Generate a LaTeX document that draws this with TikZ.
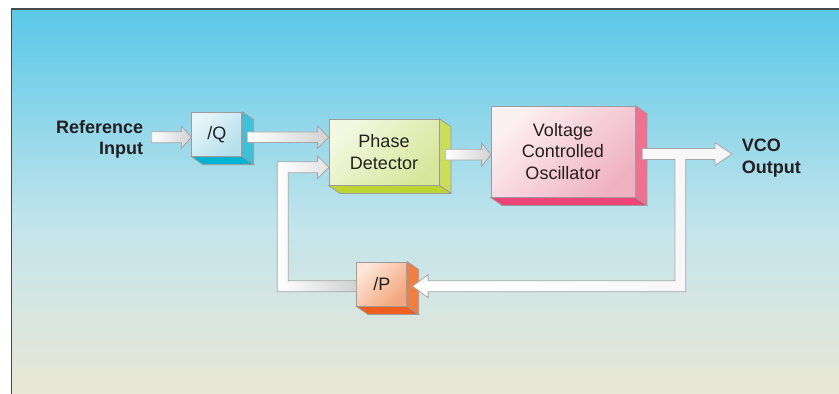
\documentclass[tikz,border=0pt]{standalone}
\usepackage{fontspec}
\setmainfont{Liberation Sans}
\usetikzlibrary{calc}
\definecolor{bgtop}{HTML}{5AC8E8}
\definecolor{bgmid}{HTML}{C4E5EB}
\definecolor{bgbot}{HTML}{ECE7D3}
\definecolor{frameline}{HTML}{4A4A4A}
\definecolor{edge}{HTML}{9C9C9C}
\definecolor{txt}{HTML}{231F20}
\definecolor{arrowedge}{HTML}{A6A6A6}
\definecolor{arrowdark}{HTML}{D2D2D2}
% /Q
\definecolor{qa}{HTML}{E6F5F9}\definecolor{qb}{HTML}{B4DFEC}
\definecolor{qs}{HTML}{3DC1DA}\definecolor{qbot}{HTML}{00B3D3}
% Phase detector
\definecolor{pa}{HTML}{F3F8E0}\definecolor{pb}{HTML}{D6E79C}
\definecolor{ps}{HTML}{CBDD5B}\definecolor{pbot}{HTML}{BDD532}
% VCO
\definecolor{va}{HTML}{FCF0F3}\definecolor{vb}{HTML}{F0B2C3}
\definecolor{vs}{HTML}{F0718F}\definecolor{vbot}{HTML}{EE4478}
% /P
\definecolor{oa}{HTML}{FDE6D8}\definecolor{ob}{HTML}{F4A57B}
\definecolor{os}{HTML}{F07F42}\definecolor{obot}{HTML}{EF5E21}

\tikzset{
  boxfront/.style={draw=edge, line width=0.8pt, inner sep=0pt, text=txt,
    font=\fontsize{18}{21.5}\selectfont, align=center},
  boxface/.style={draw=edge, line width=0.8pt, line join=miter},
  lbl/.style={inner sep=0pt, text=txt, font=\fontsize{18}{21.5}\selectfont\bfseries},
  fatarrow/.style={draw=arrowedge, line width=0.8pt, line join=miter,
    left color=white, right color=arrowdark},
}
% extruded faces of a box: #1 node name, #2 side colour, #3 bottom colour
\newcommand\boxdepth[3]{%
  \path[boxface, fill=#2] (#1.north east) -- ++(11.5,8)
     -- ($(#1.south east)+(11.5,8)$) -- (#1.south east) -- cycle;
  \path[boxface, fill=#3] (#1.south west) -- (#1.south east)
     -- ($(#1.south east)+(11.5,8)$) -- ($(#1.south west)+(11.5,8)$) -- cycle;
}
% straight fat arrow: #1 start, #2 tip, #3 shaft half width, #4 head half width, #5 head length
\newcommand\hfat[5]{%
  \path[fatarrow] ($(#1)+(0,-#3)$) -- ($(#2)+(-#5,-#3)$) -- ($(#2)+(-#5,-#4)$)
    -- (#2) -- ($(#2)+(-#5,#4)$) -- ($(#2)+(-#5,#3)$) -- ($(#1)+(0,#3)$) -- cycle;
}

\begin{document}
\begin{tikzpicture}[x=1pt, y=-1pt]
\useasboundingbox (0,0) rectangle (839,394);
\fill[white] (-5,-5) rectangle (845,400);
% background
\shade[top color=bgtop, bottom color=bgmid] (11.5,8.8) rectangle (850,230.5);
\shade[top color=bgmid, bottom color=bgbot] (11.5,230) rectangle (850,405);
\draw[frameline, line width=1.4pt] (11.5,405) -- (11.5,8.8) -- (850,8.8);

% boxes
\node[boxfront, minimum width=50pt, minimum height=44pt,
      top color=qa, bottom color=qb, shading angle=45] (q) at (216.8,134.2) {/Q};
\boxdepth{q}{qs}{qbot}
\node[boxfront, minimum width=110pt, minimum height=66pt,
      top color=pa, bottom color=pb, shading angle=45] (pd) at (384,152) {Phase\\Detector};
\boxdepth{pd}{ps}{pbot}
\node[boxfront, minimum width=144pt, minimum height=91pt,
      top color=va, bottom color=vb, shading angle=45] (vco) at (563,151.5) {Voltage\\Controlled\\Oscillator};
\boxdepth{vco}{vs}{vbot}
\node[boxfront, minimum width=50pt, minimum height=44pt,
      top color=oa, bottom color=ob, shading angle=45] (p) at (381.8,284) {/P};
\boxdepth{p}{os}{obot}

% labels
\node[lbl, anchor=north east, align=right] (refin) at (143.3,119.8) {Reference\\Input};
\node[lbl, anchor=north west, align=left] (vcoout) at (741.7,138.8) {VCO\\Output};

% connector points
\coordinate (refstart) at (151.7,137.2);
\coordinate (qin) at ($(q.west)+(0,3)$);
\coordinate (qout) at ($(q.east)+(4.9,3)$);
\coordinate (pdin) at ($(pd.west)+(0,-14.8)$);
\coordinate (pdout) at ($(pd.east)+(6.3,2.6)$);
\coordinate (vcoin) at ($(vco.west)+(0.5,3.1)$);
\coordinate (vcostart) at ($(vco.east)+(6.7,2.5)$);
\coordinate (outtip) at (732,154);
\coordinate (fbtip) at ($(pd.west)+(0.5,15.3)$);
\coordinate (fbc1) at (282.8,286.2);
\coordinate (fbc2) at (fbc1 |- fbtip);
\coordinate (tj) at (680.3,154);
\coordinate (tb) at (tj |- fbc1);
\coordinate (ptip) at ($(p.east)+(5.3,2.2)$);

% straight arrows
\hfat{refstart}{qin}{5.5}{11.2}{10}
\hfat{qout}{pdin}{5.3}{11.2}{11}
\hfat{pdout}{vcoin}{5.4}{11.5}{9.5}

% feedback path from /P to phase detector
\path[fatarrow] ($(p.west)+(0,-3.3)$) -- ($(fbc1)+(5.5,-5.5)$) -- ($(fbc2)+(5.5,5.5)$)
  -- ($(fbtip)+(-11.5,5.5)$) -- ($(fbtip)+(-11.5,11.2)$) -- (fbtip)
  -- ($(fbtip)+(-11.5,-11.2)$) -- ($(fbtip)+(-11.5,-5.5)$) -- ($(fbc2)+(-5.5,-5.5)$)
  -- ($(fbc1)+(-5.5,5.5)$) -- ($(p.west)+(0,7.7)$) -- cycle;

% VCO output with branch to /P
\path[fatarrow, left color=white, right color=white!80!arrowdark]
  ($(vcostart)+(0,-5.5)$) -- ($(outtip)+(-17,-5.5)$) -- ($(outtip)+(-17,-11.4)$)
  -- (outtip) -- ($(outtip)+(-17,11.4)$) -- ($(outtip)+(-17,5.5)$)
  -- ($(tj)+(5.4,5.5)$) -- ($(tb)+(5.4,5.5)$) -- ($(ptip)+(15.6,5.5)$)
  -- ($(ptip)+(15.6,11.5)$) -- (ptip) -- ($(ptip)+(15.6,-11.5)$)
  -- ($(ptip)+(15.6,-5.5)$) -- ($(tb)+(-5.4,-5.5)$) -- ($(tj)+(-5.4,5.5)$)
  -- ($(vcostart)+(0,5.5)$) -- cycle;
\end{tikzpicture}
\end{document}
